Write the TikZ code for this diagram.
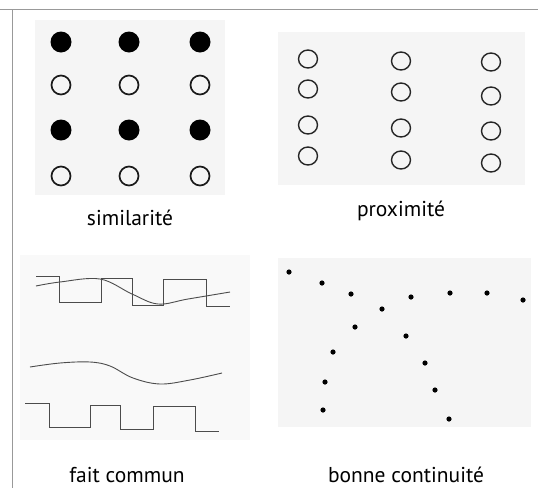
\documentclass[tikz,border=0pt]{standalone}
\usepackage{fontspec}
\setmainfont{PT Sans}
\begin{document}
\begin{tikzpicture}[x=1pt,y=-1pt,
  texture/.style={fill=black!4, draw=none},
  frameline/.style={draw=black!40, line width=0.9pt},
  fdot/.style={fill=black},
  odot/.style={draw=black!90, line width=1.7pt, fill=none},
  pdot/.style={draw=black!85, line width=1.4pt, fill=none},
  sdot/.style={fill=black},
  wave/.style={draw=black!70, line width=0.9pt, line join=miter},
  curve/.style={draw=black!70, line width=0.9pt},
  lbl/.style={font=\fontsize{21.5}{24}\selectfont, text=black, inner sep=0pt}]
\useasboundingbox (0,0) rectangle (538,488);
\fill[white] (0,0) rectangle (538,488);
% textures
\fill[texture] (35,20) rectangle (225,195);
\fill[texture] (278,32) rectangle (525,185);
\fill[black!2.5] (20,255) rectangle (250,440);
\fill[texture] (278,258) rectangle (531,427);
% frame
\draw[frameline] (0,9) -- (538,9);
\draw[frameline] (12,9) -- (12,488);
% similarite
\foreach \x in {61,129,200}{
  \fill[fdot] (\x,42) circle[radius=10.5pt];
  \draw[odot] (\x,85) circle[radius=9.5pt];
  \fill[fdot] (\x,130) circle[radius=10.5pt];
  \draw[odot] (\x,176) circle[radius=9.5pt];
}
\node[lbl] (sim) at (130,218) {similarité};
% proximite
\foreach \y in {59,89,125,156}{ \draw[pdot] (308,\y) ellipse[x radius=9.5pt, y radius=9pt]; }
\foreach \y in {61,92,128,160}{ \draw[pdot] (401,\y) ellipse[x radius=9.5pt, y radius=9pt]; }
\foreach \y in {62,96,131,163}{ \draw[pdot] (491,\y) ellipse[x radius=9.5pt, y radius=9pt]; }
\node[lbl] (prox) at (401,211) {proximité};
% fait commun
\draw[wave] (36,276) -- (59,276) -- (59,302) -- (101,302) -- (101,278) -- (132,278) -- (132,305) -- (163,305) -- (163,279) -- (206,279) -- (206,306) -- (230,306);
\draw[curve] plot[smooth, tension=0.6] coordinates {(36,286) (60,282) (100,279) (132,294) (158,304) (188,299) (230,292)};
\draw[curve] plot[smooth, tension=0.6] coordinates {(30,367) (60,363) (90,362) (110,366) (133,378) (160,384) (190,380) (222,373)};
\draw[wave] (25,403) -- (49,403) -- (49,427) -- (90,427) -- (90,405) -- (120,405) -- (120,429) -- (153,429) -- (153,406) -- (195,406) -- (195,431) -- (219,431);
\node[lbl] (fait) at (127,475) {fait commun};
% bonne continuite
\foreach \p in {(289,272),(322,283),(351,294),(382,309),(411,297),(450,293),(487,293),(523,300),(355,327),(406,336),(333,352),(425,363),(325,382),(435,390),(323,410),(449,419)}{
  \fill[sdot] \p circle[radius=2.6pt];
}
\node[lbl] (bonne) at (406,475) {bonne continuité};
\end{tikzpicture}
\end{document}
